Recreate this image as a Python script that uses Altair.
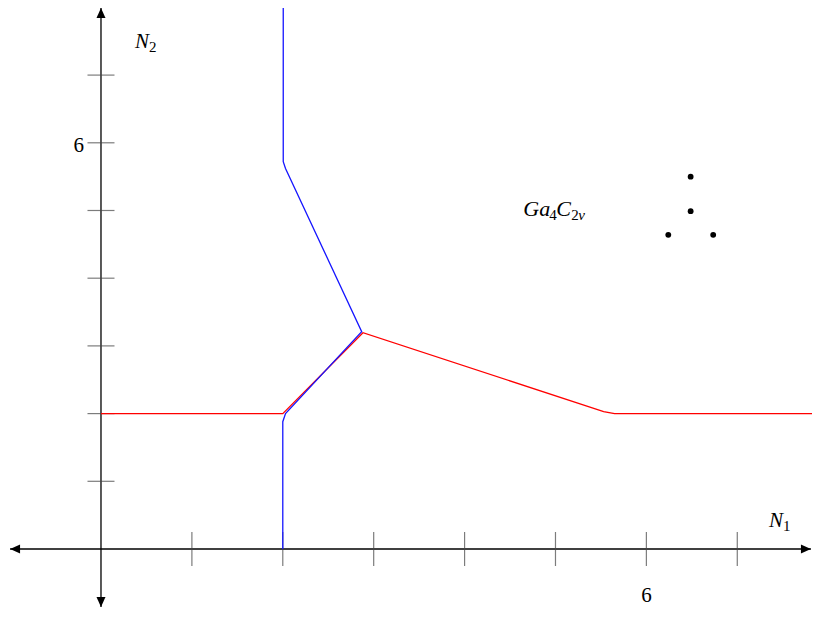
import altair as alt
import pandas as pd

# ---- data ----
x_ticks = [1, 2, 3, 4, 5, 6, 7]
y_ticks = [1, 2, 3, 4, 5, 6, 7]

blue_x = [2.005, 2.005, 2.03, 2.868, 2.03, 2.0, 2.0]
blue_y = [7.99, 5.72, 5.62, 3.21, 2.0, 1.88, 0.0]

red_x = [0.0, 2.0, 2.882, 5.53, 5.65, 7.91]
red_y = [2.0, 2.0, 3.195, 2.03, 2.0, 2.0]

dot_x = [6.487, 6.487, 6.241, 6.735]
dot_y = [5.50, 4.99, 4.64, 4.64]

arrow_x = [0.0, 7.81, 0.0, -1.0]
arrow_y = [7.99, 0.0, -0.855, 0.0]
arrow_angle = [0, 90, 180, 270]

# ---- scales ----
# plot area spans page pixels 8..812 (x) and 8..608 (y)
xs = alt.Scale(domain=[-1.023, 7.822], nice=False, zero=False)
ys = alt.Scale(domain=[-0.8715, 7.991], nice=False, zero=False)
FONT = "Liberation Serif"


def X(field):
    return alt.X(field, type="quantitative", scale=xs, axis=None)


def Y(field):
    return alt.Y(field, type="quantitative", scale=ys, axis=None)


def XD(v):
    return alt.XDatum(v, type="quantitative", scale=xs, axis=None)


def YD(v):
    return alt.YDatum(v, type="quantitative", scale=ys, axis=None)


one = pd.DataFrame({"a": [0]})

# axes lines
x_axis = alt.Chart(one).mark_rule(color="black", strokeWidth=1.3).encode(
    x=XD(-1.0), x2=alt.X2Datum(7.81), y=YD(0.0))
y_axis = alt.Chart(one).mark_rule(color="black", strokeWidth=1.3).encode(
    y=YD(-0.855), y2=alt.Y2Datum(7.99), x=XD(0.0))

arrow_df = pd.DataFrame({"x": arrow_x, "y": arrow_y, "ang": arrow_angle})
arrows = alt.Chart(arrow_df).mark_point(
    shape="M0,0L-0.9,2L0.9,2Z", filled=True, color="black", opacity=1, size=100,
    strokeWidth=0).encode(x=X("x"), y=Y("y"), angle=alt.Angle("ang:Q", scale=None))

xt_df = pd.DataFrame({"x": x_ticks, "y": [0] * len(x_ticks)})
xtick_marks = alt.Chart(xt_df).mark_tick(
    orient="vertical", size=34, thickness=1.2, color="#444444").encode(
    x=X("x"), y=Y("y"))
yt_df = pd.DataFrame({"y": y_ticks, "x": [0] * len(y_ticks)})
ytick_marks = alt.Chart(yt_df).mark_tick(
    orient="horizontal", size=27, thickness=1.2, color="#444444").encode(
    x=X("x"), y=Y("y"))

red_df = pd.DataFrame({"x": red_x, "y": red_y, "i": range(len(red_x))})
red_line = alt.Chart(red_df).mark_line(color="#ff0000", strokeWidth=1.3).encode(
    x=X("x"), y=Y("y"), order=alt.Order("i:Q"))
blue_df = pd.DataFrame({"x": blue_x, "y": blue_y, "i": range(len(blue_x))})
blue_line = alt.Chart(blue_df).mark_line(color="#1515ff", strokeWidth=1.3).encode(
    x=X("x"), y=Y("y"), order=alt.Order("i:Q"))

dot_df = pd.DataFrame({"x": dot_x, "y": dot_y})
dots = alt.Chart(dot_df).mark_circle(color="black", opacity=1, size=34).encode(
    x=X("x"), y=Y("y"))


def txt(text, x, y, size=21, italic=False, align="left", dx=0, dy=0):
    return alt.Chart(one).mark_text(
        text=text, font=FONT, fontSize=size, fontStyle="italic" if italic else "normal",
        align=align, baseline="alphabetic", dx=dx, dy=dy, color="black").encode(
        x=XD(x), y=YD(y))


labels = [
    txt("6", 6.0, -0.78, size=21, align="center"),
    txt("6", -0.187, 5.864, size=21, align="right"),
    txt("N", 0.374, 7.405, italic=True),
    txt("2", 0.374, 7.405, size=15, dx=14, dy=4),
    txt("N", 7.35, 0.325, italic=True),
    txt("1", 7.35, 0.325, size=15, dx=14, dy=4),
    txt("Ga", 4.646, 4.923, size=22, italic=True),
    txt("4", 4.646, 4.923, size=15, dx=26, dy=4),
    txt("C", 4.646, 4.923, size=22, italic=True, dx=33),
    txt("2", 4.646, 4.923, size=15, dx=48, dy=4),
    txt("v", 4.646, 4.923, size=15, italic=True, dx=55, dy=4),
]

chart = alt.layer(
    x_axis, y_axis, xtick_marks, ytick_marks, arrows, red_line, blue_line, dots, *labels
).properties(
    width=804, height=600, autosize=alt.AutoSizeParams(type="none"), padding=0
).configure_view(stroke=None)

chart.save("out.html", embed_options={"renderer": "svg", "actions": False})
